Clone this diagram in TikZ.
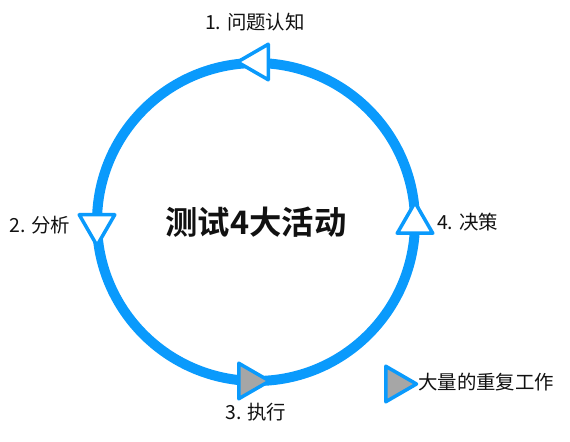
\documentclass[tikz,border=0pt]{standalone}
\usepackage{fontspec}
\setmainfont{Noto Sans CJK SC}[BoldFont={Noto Sans CJK SC Bold}]
\usetikzlibrary{shapes.geometric,positioning}
\definecolor{ringblue}{HTML}{0A9AFC}
\definecolor{ink}{HTML}{111111}
\definecolor{workgray}{HTML}{A6A6A6}
\newcommand{\lbl}{\fontsize{19.5}{23}\selectfont}
\newcommand{\ttl}{\fontsize{32.5}{38}\selectfont\bfseries}
\tikzset{
 every node/.append style={text=ink,inner sep=0pt},
 ring/.style={circle,draw=ringblue,line width=10bp,minimum size=318bp},
 tri/.style={regular polygon,regular polygon sides=3,draw=ringblue,line width=3.5bp,line join=round,fill=white,minimum size=41bp},
 worktri/.style={tri,fill=workgray},
 phase/.style={font=\lbl},
}
\begin{document}
\begin{tikzpicture}[x=1bp,y=-1bp]
\useasboundingbox (0,0) rectangle (570,442);
\node[ring] (cycle) at (256,222) {};
\node[font=\ttl] (title) at (cycle.center) {测试4大活动};
% phase markers on the ring
\node[tri,rotate=90] (t1) at (258,62) {};
\node[tri,rotate=180] (t2) at (97,225) {};
\node[worktri,rotate=-90] (t3) at (249,381) {};
\node[tri] (t4) at (415,223) {};
\node[phase] (p1) at (255,22) {1. 问题认知};
\node[phase] (p2) at (40,225) {2. 分析};
\node[phase] (p3) at (256,412) {3. 执行};
\node[phase,anchor=west] (p4) at (437,222) {4. 决策};
% legend
\node[worktri,rotate=-90] (key) at (396,384) {};
\node[phase,anchor=west] (keytext) at (418,382) {大量的重复工作};
\end{tikzpicture}
\end{document}
